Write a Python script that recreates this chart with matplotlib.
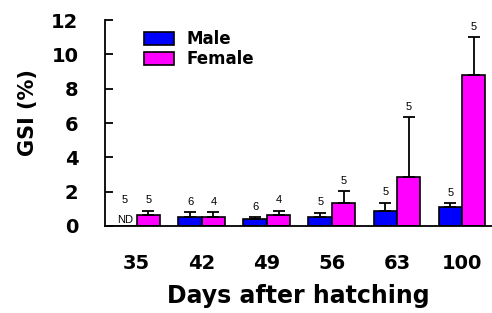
import numpy as np
import matplotlib.pyplot as plt

days = ['35', '42', '49', '56', '63', '100']
male = [np.nan, 0.52, 0.41, 0.50, 0.89, 1.09]
male_err = [0, 0.28, 0.11, 0.28, 0.47, 0.23]
female = [0.64, 0.52, 0.64, 1.36, 2.85, 8.8]
female_err = [0.23, 0.28, 0.23, 0.66, 3.48, 2.2]
male_n = ['5', '6', '6', '5', '5', '5']
female_n = ['5', '4', '4', '5', '5', '5']

plt.rcParams['font.family'] = ['DejaVu Sans']

fig = plt.figure(figsize=(4.92, 3.13), dpi=100)
ax = fig.add_axes([0.213, 0.278, 0.787, 0.658])

x = np.arange(len(days))
w = 0.36
mvals = np.nan_to_num(male)
ax.bar(x - w/2, mvals, w, color='#0000ff', edgecolor='black', linewidth=1.2, label='Male')
ax.bar(x + w/2, female, w, color='#ff00ff', edgecolor='black', linewidth=1.2, label='Female')

for i in range(len(days)):
    if not np.isnan(male[i]):
        ax.errorbar(x[i] - w/2, male[i], yerr=[[0], [male_err[i]]], fmt='none',
                    ecolor='black', elinewidth=1.3, capsize=4, capthick=1.3)
        ytxt = male[i] + male_err[i]
    else:
        ax.text(x[i] - w/2, 0.05, 'ND', ha='center', va='bottom', fontsize=8,
                family='Liberation Sans')
        ytxt = 0.9
    ax.annotate(male_n[i], (x[i] - w/2, ytxt), xytext=(0, 4), textcoords='offset points',
                ha='center', va='bottom', fontsize=8, family='Liberation Sans')
    ax.errorbar(x[i] + w/2, female[i], yerr=[[0], [female_err[i]]], fmt='none',
                ecolor='black', elinewidth=1.3, capsize=4, capthick=1.3)
    ax.annotate(female_n[i], (x[i] + w/2, female[i] + female_err[i]), xytext=(0, 4),
                textcoords='offset points', ha='center', va='bottom', fontsize=8,
                family='Liberation Sans')

ax.set_xlim(-0.49, 5.46)
ax.set_ylim(0, 12)
ax.set_yticks(range(0, 13, 2))
ax.set_xticks(x)
ax.set_xticklabels(days, fontsize=14, fontweight='bold')
for lab in ax.get_yticklabels():
    lab.set_fontsize(14)
    lab.set_fontweight('bold')
ax.tick_params(axis='x', length=0, pad=20)
ax.tick_params(axis='y', direction='in', length=6, width=1.3, pad=19)
ax.spines['top'].set_visible(False)
ax.spines['right'].set_visible(False)
ax.spines['left'].set_linewidth(1.3)
ax.spines['bottom'].set_linewidth(1.3)
ax.set_xlabel('Days after hatching', fontsize=17, fontweight='bold', labelpad=8)
ax.set_ylabel('GSI (%)', fontsize=15, fontweight='bold')
ax.yaxis.set_label_coords(-0.173, 0.55)

ax.legend(loc='upper left', bbox_to_anchor=(0.10, 0.95), frameon=False,
          prop={'weight': 'bold', 'size': 12}, handlelength=1.8, handleheight=0.8,
          labelspacing=0.1, handletextpad=0.8, borderaxespad=0, borderpad=0)

fig.savefig('out.png', dpi=100)
